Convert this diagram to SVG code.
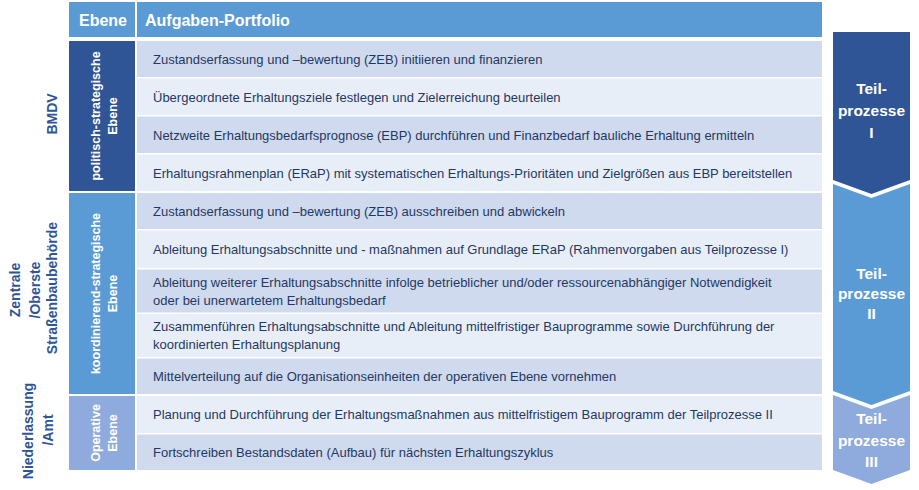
<svg xmlns="http://www.w3.org/2000/svg" width="919" height="490" viewBox="0 0 919 490">
<defs>
<style>
.hd{fill:#5B9BD5}
.rd{fill:#CFDAEE}
.rl{fill:#E8EEF7}
.ht{font-family:"Liberation Sans",Arial,sans-serif;font-size:16px;font-weight:bold;fill:#FFFFFF}
.rt{font-family:"Liberation Sans",Arial,sans-serif;font-size:13px;fill:#1F3864}
.vt{font-family:"Liberation Sans",Arial,sans-serif;font-size:12.5px;font-weight:bold;fill:#FFFFFF;text-anchor:middle}
.lt{font-family:"Liberation Sans",Arial,sans-serif;font-size:14px;font-weight:bold;fill:#2F5597;text-anchor:middle}
.ct{font-family:"Liberation Sans",Arial,sans-serif;font-size:15.5px;font-weight:bold;fill:#FFFFFF;text-anchor:middle}
</style>
</defs>
<rect width="919" height="490" fill="#FFFFFF"/>
<g id="header">
<rect class="hd" x="69" y="2" width="66" height="35"/>
<rect class="hd" x="137" y="2" width="685" height="35"/>
<text class="ht" x="79" y="26">Ebene</text>
<text class="ht" x="145" y="26">Aufgaben-Portfolio</text>
</g>
<g id="level-politisch">
<rect x="69" y="41" width="66" height="150" fill="#2F5597"/>
<text class="vt" transform="translate(99.5,116) rotate(-90)">politisch-strategische</text>
<text class="vt" transform="translate(116.5,116) rotate(-90)">Ebene</text>
</g>
<g id="level-koordinierend">
<rect x="69" y="193" width="66" height="201" fill="#5B9BD5"/>
<text class="vt" transform="translate(99.5,293.5) rotate(-90)">koordinierend-strategische</text>
<text class="vt" transform="translate(116.5,293.5) rotate(-90)">Ebene</text>
</g>
<g id="level-operativ">
<rect x="69" y="396" width="66" height="74" fill="#8FAADC"/>
<text class="vt" transform="translate(99.5,433) rotate(-90)">Operative</text>
<text class="vt" transform="translate(116.5,433) rotate(-90)">Ebene</text>
</g>
<g id="org-bmdv">
<text class="lt" transform="translate(57,114) rotate(-90)">BMDV</text>
</g>
<g id="org-zentrale">
<text class="lt" transform="translate(20,290) rotate(-90)">Zentrale</text>
<text class="lt" transform="translate(39.5,290) rotate(-90)">/Oberste</text>
<text class="lt" transform="translate(57,288) rotate(-90)">Straßenbaubehörde</text>
</g>
<g id="org-niederlassung">
<text class="lt" transform="translate(33,431) rotate(-90)">Niederlassung</text>
<text class="lt" transform="translate(53,430) rotate(-90)">/Amt</text>
</g>
<g id="tasks">
<g id="task1"><rect class="rd" x="137" y="41" width="685" height="36"/><text class="rt" x="153" y="63.5">Zustandserfassung und –bewertung (ZEB) initiieren und finanzieren</text></g>
<g id="task2"><rect class="rl" x="137" y="78.5" width="685" height="36.5"/><text class="rt" x="153" y="101.5">Übergeordnete Erhaltungsziele festlegen und Zielerreichung beurteilen</text></g>
<g id="task3"><rect class="rd" x="137" y="116.5" width="685" height="36.5"/><text class="rt" x="153" y="139.5">Netzweite Erhaltungsbedarfsprognose (EBP) durchführen und Finanzbedarf bauliche Erhaltung ermitteln</text></g>
<g id="task4"><rect class="rl" x="137" y="154.5" width="685" height="36.5"/><text class="rt" x="153" y="177.5">Erhaltungsrahmenplan (ERaP) mit systematischen Erhaltungs-Prioritäten und Zielgrößen aus EBP bereitstellen</text></g>
<g id="task5"><rect class="rd" x="137" y="193" width="685" height="36"/><text class="rt" x="153" y="215.5">Zustandserfassung und –bewertung (ZEB) ausschreiben und abwickeln</text></g>
<g id="task6"><rect class="rl" x="137" y="230.5" width="685" height="37.5"/><text class="rt" x="153" y="254">Ableitung Erhaltungsabschnitte und - maßnahmen auf Grundlage ERaP (Rahmenvorgaben aus Teilprozesse I)</text></g>
<g id="task7"><rect class="rd" x="137" y="269.5" width="685" height="43"/><text class="rt" x="153" y="287">Ableitung weiterer Erhaltungsabschnitte infolge betrieblicher und/oder ressourcenabhängiger Notwendigkeit</text><text class="rt" x="153" y="304.5">oder bei unerwartetem Erhaltungsbedarf</text></g>
<g id="task8"><rect class="rl" x="137" y="314" width="685" height="43"/><text class="rt" x="153" y="331">Zusammenführen Erhaltungsabschnitte und Ableitung mittelfristiger Bauprogramme sowie Durchführung der</text><text class="rt" x="153" y="348.5">koordinierten Erhaltungsplanung</text></g>
<g id="task9"><rect class="rd" x="137" y="358.5" width="685" height="35.5"/><text class="rt" x="153" y="380.5">Mittelverteilung auf die Organisationseinheiten der operativen Ebene vornehmen</text></g>
<g id="task10"><rect class="rl" x="137" y="396" width="685" height="37"/><text class="rt" x="153" y="419">Planung und Durchführung der Erhaltungsmaßnahmen aus mittelfristigem Bauprogramm der Teilprozesse II</text></g>
<g id="task11"><rect class="rd" x="137" y="434.5" width="685" height="35.5"/><text class="rt" x="153" y="456.5">Fortschreiben Bestandsdaten (Aufbau) für nächsten Erhaltungszyklus</text></g>
</g>
<g id="process1">
<polygon points="833,32 910,32 910,180 871.5,194 833,180" fill="#2F5597"/>
<text class="ct" x="871.5" y="94">Teil-</text>
<text class="ct" x="871.5" y="115.5">prozesse</text>
<text class="ct" x="871.5" y="137.5">I</text>
</g>
<g id="process2">
<polygon points="833,184 871.5,198 910,184 910,391 871.5,405 833,391" fill="#5B9BD5"/>
<text class="ct" x="871.5" y="278.5">Teil-</text>
<text class="ct" x="871.5" y="298.5">prozesse</text>
<text class="ct" x="871.5" y="319">II</text>
</g>
<g id="process3">
<polygon points="833,395 871.5,409 910,395 910,470 871.5,484 833,470" fill="#8FAADC"/>
<text class="ct" x="871.5" y="424">Teil-</text>
<text class="ct" x="871.5" y="446">prozesse</text>
<text class="ct" x="871.5" y="467">III</text>
</g>
<g id="connectors"></g>
</svg>
